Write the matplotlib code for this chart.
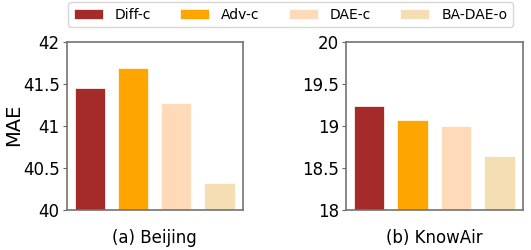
import matplotlib
matplotlib.use("Agg")
import matplotlib.pyplot as plt

methods = ["Diff-c", "Adv-c", "DAE-c", "BA-DAE-o"]
colors = ["#A52A2A", "#FFA500", "#FFDAB9", "#F5DEB3"]

beijing_mae = [41.45, 41.69, 41.27, 40.32]
knowair_mae = [19.24, 19.07, 19.00, 18.64]

beijing_ticks = [40, 40.5, 41, 41.5, 42]
beijing_labels = ["40", "40.5", "41", "41.5", "42"]
knowair_ticks = [18, 18.5, 19, 19.5, 20]
knowair_labels = ["18", "18.5", "19", "19.5", "20"]

titles = ["(a) Beijing", "(b) KnowAir"]

fig = plt.figure(figsize=(5.31, 2.5), dpi=100)
ax1 = fig.add_axes([0.1256, 0.16, 0.3315, 0.673])
ax2 = fig.add_axes([0.6516, 0.16, 0.333, 0.673])

panels = [(ax1, beijing_mae, beijing_ticks, beijing_labels),
          (ax2, knowair_mae, knowair_ticks, knowair_labels)]

bars = None
for ax, vals, ticks, labels in panels:
    x = range(len(vals))
    bars = ax.bar(x, vals, width=0.7, color=colors, edgecolor="white",
                  linewidth=0.5)
    ax.set_ylim(ticks[0], ticks[-1])
    ax.set_yticks(ticks)
    ax.set_yticklabels(labels, fontsize=12)
    ax.set_xticks([])
    ax.tick_params(axis="y", length=3, width=0.8, color="0.4", pad=2)
    for s in ax.spines.values():
        s.set_color("0.45")
        s.set_linewidth(1.2)

# y label placed by hand so it sits where the reference has it
fig.text(14 / 531, 0.5, "MAE", rotation=90, ha="center", va="center",
         fontsize=14)

for ax, t in zip([ax1, ax2], titles):
    pos = ax.get_position()
    fig.text((pos.x0 + pos.x1) / 2, 0.048, t, ha="center", va="center",
             fontsize=12)

fig.legend(bars, methods, loc="upper center", ncol=4, fontsize=10,
           bbox_to_anchor=(0.547, 1.0), frameon=True, borderaxespad=0.15,
           handlelength=2.1, handletextpad=0.85, columnspacing=2.1)

fig.savefig("out.png", dpi=100)
